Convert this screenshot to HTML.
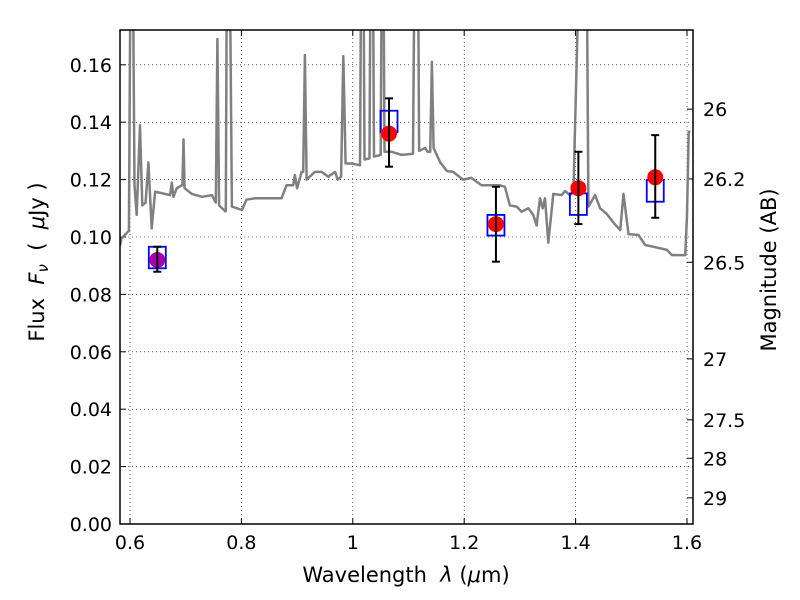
<!DOCTYPE html>
<html><head><meta charset="utf-8"><style>
body{margin:0;background:#fff;}
svg{display:block;font-family:"DejaVu Sans","Liberation Sans",sans-serif;}
.pre{white-space:pre;}
</style></head><body>
<svg id="chart" width="800" height="600" viewBox="0 0 800 600"></svg>
<script>
// Spectrum (wavelength in nm, flux in uJy)
const specWave = [582,585,597,598,601,605,608,612,618,622,628,633,639,645,672,675,678,684,693,694,696,698,711,729,747,754,757,760,771,772,774,779,783,801,809,824,842,860,872,881,893,896,900,908,911,914,917,932,944,956,968,973,979,983,987,998,1013,1015,1019,1021,1030,1032,1036,1038,1050,1052,1055,1057,1070,1088,1108,1111,1117,1119,1130,1134,1139,1142,1145,1157,1169,1180,1198,1213,1231,1249,1264,1273,1282,1294,1303,1315,1324,1330,1336,1341,1345,1351,1360,1375,1381,1390,1396,1407,1420,1423,1435,1444,1456,1468,1480,1486,1495,1513,1525,1540,1564,1573,1597,1600,1603,1606];
const specFlux = [0.097,0.0995,0.102,0.102,0.2,0.2,0.118,0.1077,0.139,0.111,0.112,0.126,0.103,0.1158,0.1146,0.119,0.114,0.117,0.118,0.118,0.134,0.117,0.115,0.114,0.1146,0.112,0.169,0.111,0.109,0.109,0.2,0.2,0.1106,0.1094,0.113,0.1135,0.1135,0.1135,0.1135,0.118,0.118,0.1216,0.117,0.1227,0.1227,0.1634,0.120,0.1227,0.1227,0.121,0.1227,0.120,0.121,0.163,0.1256,0.1256,0.125,0.2,0.2,0.127,0.1274,0.2,0.2,0.128,0.1286,0.2,0.2,0.1297,0.1297,0.1286,0.129,0.2,0.2,0.130,0.131,0.1297,0.1297,0.161,0.131,0.126,0.123,0.1227,0.120,0.1206,0.118,0.118,0.118,0.1175,0.111,0.1106,0.1088,0.110,0.1077,0.104,0.1135,0.110,0.1135,0.098,0.115,0.1146,0.116,0.1146,0.1158,0.2,0.2,0.1106,0.1146,0.110,0.108,0.105,0.1024,0.115,0.101,0.1007,0.0972,0.0966,0.0955,0.0937,0.0937,0.1077,0.1367,0.1367];
// Photometry
const photWave = [649,1065,1257,1405,1543];
const photFlux = [0.092,0.136,0.1045,0.117,0.1208];
const photErrLo = [0.0879,0.1245,0.0914,0.1045,0.1067];
const photErrHi = [0.0966,0.1483,0.1175,0.1297,0.1355];
const modelLo = [0.0891,0.1365,0.1005,0.1077,0.1123];
const modelHi = [0.0966,0.144,0.1077,0.1152,0.1199];
const xTicks = [0.6,0.8,1.0,1.2,1.4,1.6];
const xTickLabels = ["0.6","0.8","1","1.2","1.4","1.6"];
const yTicks = [0,0.02,0.04,0.06,0.08,0.10,0.12,0.14,0.16];
const yTickLabels = ["0.00","0.02","0.04","0.06","0.08","0.10","0.12","0.14","0.16"];
const magTicks = [26,26.2,26.5,27,27.5,28,29];
const magTickLabels = ["26","26.2","26.5","27","27.5","28","29"];

const L=120,R=693,T=30,B=524;
const xs = um => 130 + (um-0.6)*557;
const ys = f => 524 - f*2870;
const svg = document.getElementById('chart');
const NS='http://www.w3.org/2000/svg';
function mk(tag, attrs, parent){const e=document.createElementNS(NS,tag);for(const k in attrs)e.setAttribute(k,attrs[k]);(parent||svg).appendChild(e);return e;}

const defs = mk('defs',{});
const cp = mk('clipPath',{id:'clip'},defs);
mk('rect',{x:L,y:T,width:R-L,height:B-T},cp);

xTicks.forEach((t,i)=>{
  const g=mk('line',{x1:xs(t),x2:xs(t),y1:T,y2:B,stroke:'#000','stroke-width':0.6,'stroke-dasharray':'1,3'});
  
  
  mk('line',{x1:xs(t),x2:xs(t),y1:B,y2:B-6,stroke:'#000','stroke-width':1});
  mk('line',{x1:xs(t),x2:xs(t),y1:T,y2:T+6,stroke:'#000','stroke-width':1});
  const tx=mk('text',{x:xs(t),y:B+25,'text-anchor':'middle','font-size':19});
  tx.textContent=xTickLabels[i];
  
  
});
yTicks.forEach((t,i)=>{
  const g=mk('line',{x1:L,x2:R,y1:ys(t),y2:ys(t),stroke:'#000','stroke-width':0.6,'stroke-dasharray':'1,3'});
  
  
  mk('line',{x1:L,x2:L+6,y1:ys(t),y2:ys(t),stroke:'#000','stroke-width':1});
  const tx=mk('text',{x:L-8,y:ys(t)+7,'text-anchor':'end','font-size':19});
  tx.textContent=yTickLabels[i];
  
  
});
magTicks.forEach((m,i)=>{
  const f=Math.pow(10,(23.9-m)/2.5);
  mk('line',{x1:R,x2:R-6,y1:ys(f),y2:ys(f),stroke:'#000','stroke-width':1});
  const tx=mk('text',{x:R+10,y:ys(f)+7,'font-size':19});
  tx.textContent=magTickLabels[i];
  
  
});

const g=mk('g',{'clip-path':'url(#clip)'});
const pts=specWave.map((w,i)=>xs(w/1000).toFixed(1)+','+ys(specFlux[i]).toFixed(1)).join(' ');
const sp=mk('polyline',{points:pts,fill:'none',stroke:'#808080','stroke-width':2.5,'stroke-linejoin':'round'},g);



photWave.forEach((w,i)=>{
  const x=xs(w/1000);
  const r=mk('rect',{x:x-8.5,y:ys(modelHi[i]),width:17,height:ys(modelLo[i])-ys(modelHi[i]),fill:'none',stroke:'#0000ff','stroke-width':1.8},g);
  
  
});
photWave.forEach((w,i)=>{
  const x=xs(w/1000);
  const c=mk('circle',{cx:x,cy:ys(photFlux[i]),r:8,fill:i===0?'#aa00aa':'#ff0000'},g);
  
  
  const e=mk('g',{stroke:'#000','stroke-width':2},g);
  
  
  mk('line',{x1:x,x2:x,y1:ys(photErrHi[i]),y2:ys(photErrLo[i])},e);
  mk('line',{x1:x-4,x2:x+4,y1:ys(photErrHi[i]),y2:ys(photErrHi[i])},e);
  mk('line',{x1:x-4,x2:x+4,y1:ys(photErrLo[i]),y2:ys(photErrLo[i])},e);
});

const fr=mk('rect',{x:L,y:T,width:R-L,height:B-T,fill:'none',stroke:'#000','stroke-width':1.5});



const xl=mk('text',{x:406,y:582,'text-anchor':'middle','font-size':21,'class':'pre'});
xl.innerHTML='Wavelength  <tspan font-style="italic">λ</tspan> (<tspan font-style="italic">μ</tspan>m)';


const yl=mk('text',{x:0,y:0,'text-anchor':'middle','font-size':21,transform:'translate(44,262) rotate(-90)','class':'pre'});
yl.innerHTML='Flux  <tspan font-style="italic">F</tspan><tspan font-style="italic" font-size="15" dy="4">ν</tspan><tspan dy="-4">  (  </tspan><tspan font-style="italic">μ</tspan>Jy )';


const rl=mk('text',{x:0,y:0,'text-anchor':'middle','font-size':21,transform:'translate(776,270) rotate(-90)'});
rl.textContent='Magnitude (AB)';


</script>
</body></html>
